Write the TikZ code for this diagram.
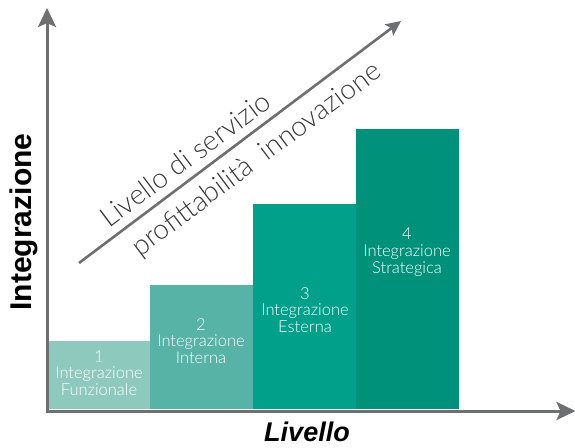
\documentclass[tikz,border=0pt]{standalone}
\usepackage{fontspec}
\setmainfont{Liberation Sans}
\newfontfamily\lt{Lato Light}
\usetikzlibrary{arrows.meta}
\definecolor{axisgray}{HTML}{6E6F71}
\definecolor{cA}{HTML}{8EC9BE}
\definecolor{cB}{HTML}{56B3A5}
\definecolor{cC}{HTML}{00A08A}
\definecolor{cD}{HTML}{00917A}
\definecolor{txtgray}{HTML}{3A3A3A}
\tikzset{
  bar/.style={inner sep=0pt, outer sep=0pt, anchor=south west, minimum width=103pt},
  barlabel/.style={text=white, align=center, font=\lt\fontsize{16.5}{16.8}\selectfont, inner sep=0pt},
  axis/.style={draw=axisgray, line width=3pt, -{Stealth[length=19pt,width=18pt,inset=4pt]}},
  diag/.style={draw=axisgray, line width=2.6pt, -{Stealth[length=15pt,width=14pt,inset=3pt]}},
  diagtext/.style={text=txtgray, rotate=36.8, inner sep=0pt, font=\lt\fontsize{28}{30}\selectfont}
}
\begin{document}
\begin{tikzpicture}[x=1pt,y=-1pt]
\useasboundingbox (0,0) rectangle (575,447);
% bars
\node[bar, fill=cA, minimum height=68pt]  (b1) at (49,409) {};
\node[bar, fill=cB, minimum height=124pt] (b2) at (150,409) {};
\node[bar, fill=cC, minimum height=205pt] (b3) at (253,409) {};
\node[bar, fill=cD, minimum height=280pt, minimum width=103pt] (b4) at (356,409) {};
% bar labels
\node[barlabel] (l1) at (99,373) {1\\Integrazione\\Funzionale};
\node[barlabel] (l2) at (201,341) {2\\Integrazione\\Interna};
\node[barlabel] (l3) at (305,310) {3\\Integrazione\\Esterna};
\node[barlabel] (l4) at (407,252) {4\\Integrazione\\Strategica};
% axes
\coordinate (o) at (47,411);
\coordinate (ytop) at (47,8);
\coordinate (xend) at (575.5,411);
\draw[axis] (47,412.5) -- (ytop);
\draw[axis] (45.5,411) -- (xend);
% diagonal
\coordinate (d1) at (79,263);
\coordinate (d2) at (401,21);
\draw[diag] (d1) -- (d2);
\node[diagtext] (t1) at (185,159) {Livello di servizio};
\node[diagtext] (t2) at (257,160) {profittabilità\ \ innovazione};
% axis labels
\node[rotate=90, font=\bfseries\fontsize{30}{32}\selectfont, inner sep=0pt] (ylab) at (24,222) {Integrazione};
\node[font=\bfseries\itshape\fontsize{27}{29}\selectfont, inner sep=0pt] (xlab) at (307,432) {Livello};
\end{tikzpicture}
\end{document}
